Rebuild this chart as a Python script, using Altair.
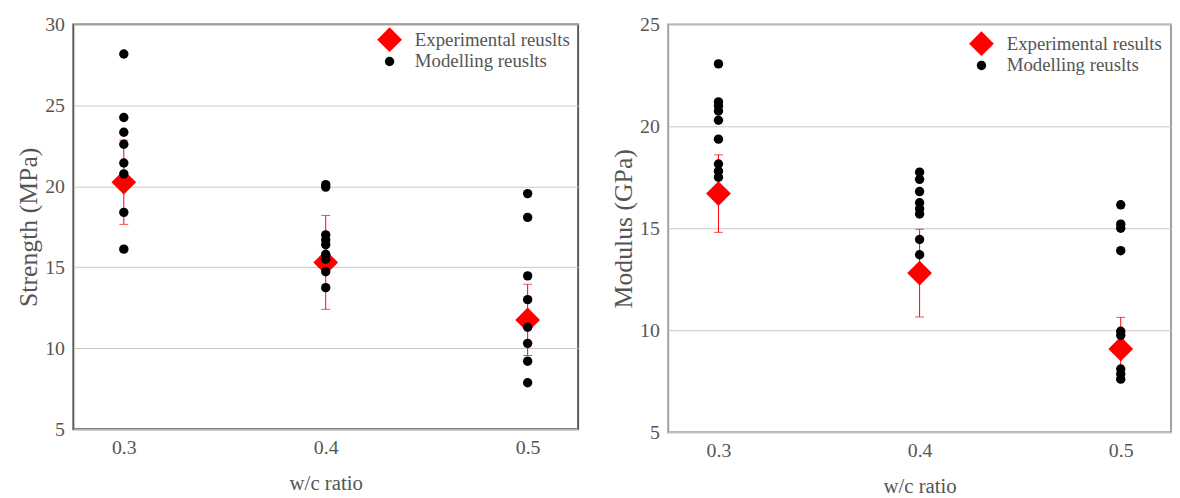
import altair as alt
import pandas as pd

# ---------------- data ----------------
ratios = [0.3, 0.4, 0.5]

strength_exp = [20.25, 15.3, 11.75]
strength_err = [2.6, 2.9, 2.2]
strength_model = {
    0.3: [28.17, 24.25, 23.34, 22.6, 21.44, 20.77, 18.39, 16.12],
    0.4: [20.1, 19.95, 17.0, 16.7, 16.4, 15.8, 15.5, 14.72, 13.74],
    0.5: [19.55, 18.08, 14.47, 13.0, 11.3, 10.3, 9.2, 7.87],
}

modulus_exp = [16.7, 12.8, 9.08]
modulus_err = [1.9, 2.15, 1.55]
modulus_model = {
    0.3: [23.06, 21.2, 21.0, 20.75, 20.3, 19.37, 18.15, 17.8, 17.5],
    0.4: [17.75, 17.4, 16.8, 16.25, 15.95, 15.7, 14.45, 13.7],
    0.5: [16.15, 15.2, 15.0, 13.9, 9.95, 9.75, 8.1, 7.85, 7.6],
}

left_labels = ["Experimental reuslts", "Modelling reuslts"]
right_labels = ["Experimental results", "Modelling reuslts"]
left_yticks = [5, 10, 15, 20, 25, 30]
right_yticks = [5, 10, 15, 20, 25]

RED = "#ff0000"
TEXT = "#555555"
FONT = "Liberation Serif"


def panel(exp_vals, exp_err, model, labels, ytitle, yticks, frame_color,
          width, height, lx, ly):
    exp_df = pd.DataFrame({
        "ratio": ratios,
        "value": exp_vals,
        "lo": [v - e for v, e in zip(exp_vals, exp_err)],
        "hi": [v + e for v, e in zip(exp_vals, exp_err)],
        "series": labels[0],
    })
    rows = []
    for r in ratios:
        for v in model[r]:
            rows.append({"ratio": r, "value": v, "series": labels[1]})
    mod_df = pd.DataFrame(rows)
    pts_df = pd.concat([exp_df[["ratio", "value", "series"]], mod_df],
                       ignore_index=True)

    common = dict(labelFont=FONT, labelFontSize=20, labelColor=TEXT,
                  titleFont=FONT, titleColor=TEXT, titleFontWeight="normal",
                  ticks=False, domain=False)
    xscale = alt.Scale(domain=[0.275, 0.525], nice=False, zero=False)
    yscale = alt.Scale(domain=[yticks[0], yticks[-1]], nice=False, zero=False)
    xaxis = alt.Axis(values=ratios, format=".1f", title="w/c ratio",
                     grid=False, labelPadding=9, titlePadding=15,
                     titleFontSize=21, **common)
    yaxis = alt.Axis(values=yticks, title=ytitle, grid=True,
                     gridColor="#c8c8c8", gridWidth=1, labelPadding=9,
                     titlePadding=3, titleFontSize=26, **common)

    x = alt.X("ratio:Q", scale=xscale, axis=xaxis)

    rule = alt.Chart(exp_df).mark_rule(color=RED, strokeWidth=1).encode(
        x=x, y=alt.Y("lo:Q", scale=yscale, axis=yaxis), y2="hi:Q")
    cap_hi = alt.Chart(exp_df).mark_tick(
        color=RED, orient="horizontal", size=9, thickness=1).encode(
        x=x, y=alt.Y("hi:Q", scale=yscale, axis=yaxis))
    cap_lo = alt.Chart(exp_df).mark_tick(
        color=RED, orient="horizontal", size=9, thickness=1).encode(
        x=x, y=alt.Y("lo:Q", scale=yscale, axis=yaxis))

    leg = alt.Legend(title=None, orient="none", legendX=lx, legendY=ly,
                     labelFont=FONT, labelFontSize=19, labelColor=TEXT,
                     labelOffset=13, rowPadding=0, padding=0,
                     symbolStrokeWidth=0)
    pts = alt.Chart(pts_df).mark_point(filled=True, opacity=1,
                                       strokeWidth=0).encode(
        x=x,
        y=alt.Y("value:Q", scale=yscale, axis=yaxis),
        shape=alt.Shape("series:N", scale=alt.Scale(
            domain=labels, range=["diamond", "circle"]), legend=leg),
        color=alt.Color("series:N", scale=alt.Scale(
            domain=labels, range=[RED, "black"]), legend=leg),
        size=alt.Size("series:N", scale=alt.Scale(
            domain=labels, range=[625, 90]), legend=leg),
    )
    return alt.layer(rule, cap_hi, cap_lo, pts).properties(
        width=width, height=height,
        view=alt.ViewBackground(stroke=frame_color, strokeWidth=2),
    )


left = panel(strength_exp, strength_err, strength_model, left_labels,
             "Strength (MPa)", left_yticks, "#5a5a5a", 510, 409, 307, 3)
right = panel(modulus_exp, modulus_err, modulus_model, right_labels,
              "Modulus (GPa)", right_yticks, "#a0a0a0", 508, 412, 304, 7)

chart = alt.hconcat(left, right, spacing=31).resolve_scale(
    color="independent", shape="independent", size="independent"
).resolve_legend(
    color="independent", shape="independent", size="independent"
).configure(
    padding={"left": 7, "top": 3, "right": 0, "bottom": 0},
    background="white",
).configure_axis(
    labelFont=FONT, labelFontSize=20, labelColor=TEXT,
    titleFont=FONT, titleColor=TEXT, titleFontWeight="normal",
    ticks=False, domain=False,
)

chart.save("out.html", embed_options={"renderer": "svg", "actions": False})
